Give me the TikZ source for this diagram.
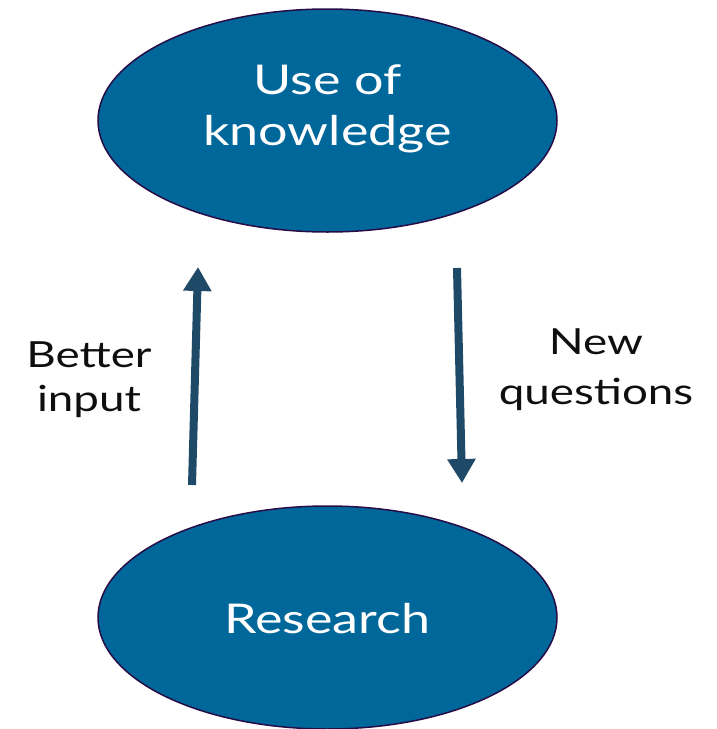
\documentclass[tikz,border=0pt]{standalone}
\usepackage{fontspec}
\setmainfont{Lato}[FakeStretch=1.27]
\usetikzlibrary{shapes.geometric,arrows.meta}
\definecolor{ellfill}{RGB}{0,103,155}
\definecolor{ellline}{RGB}{40,12,70}
\definecolor{arrcol}{RGB}{30,74,104}
\definecolor{txtcol}{RGB}{15,15,15}
\tikzset{
  bubble/.style={ellipse, draw=ellline, line width=1.5pt, fill=ellfill,
    minimum width=459pt, minimum height=223pt, inner sep=0pt},
  bubbletext/.style={text=white, align=center, inner sep=0pt,
    font=\fontsize{41}{51}\selectfont},
  flow/.style={draw=arrcol, line width=8pt,
    -{Triangle[width=27pt,length=24pt]}},
  note/.style={text=txtcol, align=center, inner sep=0pt}
}
\begin{document}
\begin{tikzpicture}[x=1pt,y=-1pt]
\useasboundingbox (0,0) rectangle (717,729);
\node[bubble] (use) at (327.5,120.5) {};
\node[bubbletext] (usetxt) at ([yshift=12pt]use.center) {Use of\\knowledge};
\node[bubble] (res) at (327.5,617.5) {};
\node[bubbletext] (restxt) at ([yshift=-1pt]res.center) {Research};
\coordinate (a1s) at (192,485);
\coordinate (a1e) at (198,267);
\coordinate (a2s) at (457,268);
\coordinate (a2e) at (462,483);
\draw[flow] (a1s) -- (a1e);
\draw[flow] (a2s) -- (a2e);
\node[note, font=\fontsize{36}{44}\selectfont] (better) at (89,380) {Better\\input};
\node[note, font=\fontsize{36}{50}\selectfont] (newq) at (596,370) {New\\questions};
\end{tikzpicture}
\end{document}
